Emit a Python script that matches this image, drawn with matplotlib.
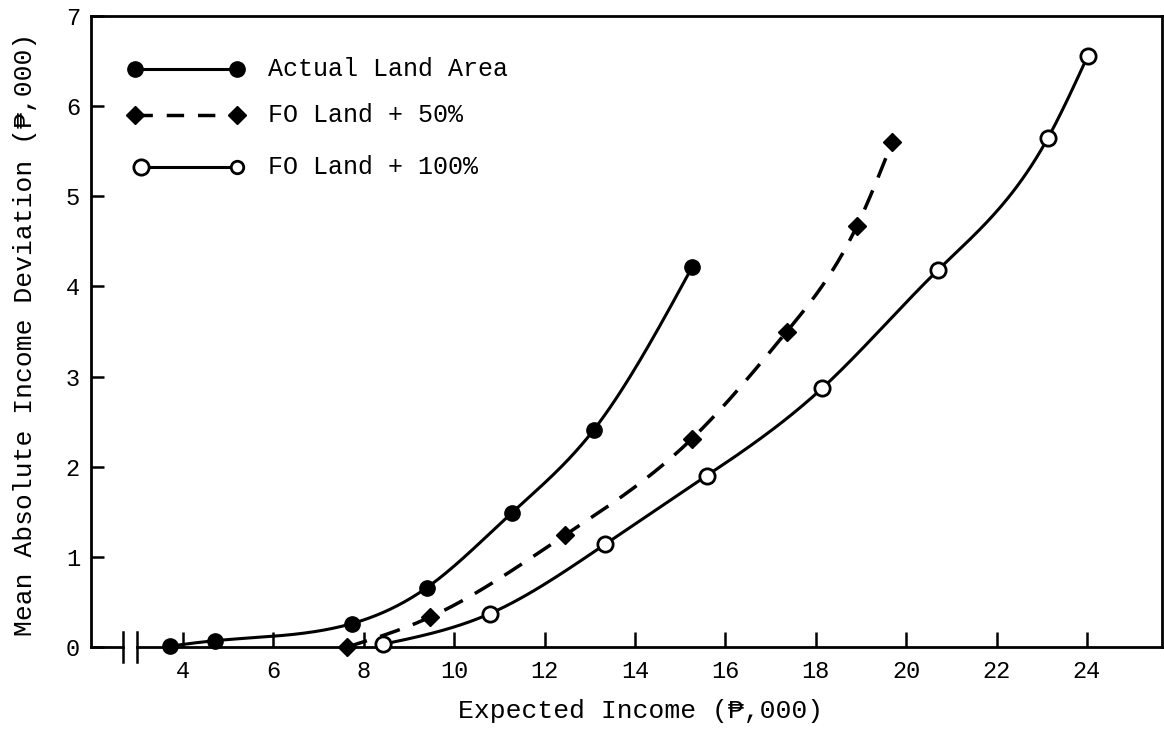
import numpy as np
import matplotlib
matplotlib.use('Agg')
import matplotlib.pyplot as plt

plt.rcParams['font.family'] = ['Liberation Mono', 'DejaVu Sans Mono', 'DejaVu Sans']

# values (thousand pesos)
actual_x = [3.71, 4.71, 7.74, 9.40, 11.28, 13.09, 15.26]
actual_y = [0.01, 0.07, 0.26, 0.66, 1.49, 2.41, 4.21]

fo50_x = [7.63, 9.46, 12.45, 15.26, 17.36, 18.91, 19.69]
fo50_y = [0.00, 0.33, 1.24, 2.31, 3.50, 4.67, 5.60]

fo100_x = [8.42, 10.79, 13.34, 15.59, 18.14, 20.70, 23.14, 24.02]
fo100_y = [0.03, 0.37, 1.14, 1.90, 2.87, 4.18, 5.65, 6.56]

labels = ['Actual Land Area', 'FO Land + 50%', 'FO Land + 100%']
x_ticks = [4, 6, 8, 10, 12, 14, 16, 18, 20, 22, 24]
y_ticks = [0, 1, 2, 3, 4, 5, 6, 7]


def smooth(x, y, n=300):
    # natural cubic spline through the points, like the hand-drawn curves
    x = np.asarray(x, float)
    y = np.asarray(y, float)
    k = len(x)
    h = np.diff(x)
    A = np.zeros((k, k))
    r = np.zeros(k)
    A[0, 0] = A[-1, -1] = 1
    for i in range(1, k - 1):
        A[i, i - 1] = h[i - 1]
        A[i, i] = 2 * (h[i - 1] + h[i])
        A[i, i + 1] = h[i]
        r[i] = 6 * ((y[i + 1] - y[i]) / h[i] - (y[i] - y[i - 1]) / h[i - 1])
    M = np.linalg.solve(A, r)
    xs = np.linspace(x[0], x[-1], n)
    i = np.clip(np.searchsorted(x, xs) - 1, 0, k - 2)
    hi = h[i]
    a = x[i + 1] - xs
    b = xs - x[i]
    ys = (M[i] * a**3 / (6 * hi) + M[i + 1] * b**3 / (6 * hi)
          + (y[i] / hi - M[i] * hi / 6) * a + (y[i + 1] / hi - M[i + 1] * hi / 6) * b)
    return xs, ys


fig = plt.figure(figsize=(11.64, 7.35), dpi=100)
ax = fig.add_axes([91 / 1164, 1 - 647 / 735, 1071 / 1164, 631 / 735])

ax.set_xlim(1.965, 25.66)
ax.set_ylim(0, 7)

lw = 2.2
sx, sy = smooth(actual_x, actual_y)
ax.plot(sx, sy, color='k', lw=lw, clip_on=False)
ax.plot(actual_x, actual_y, 'o', color='k', ms=11, clip_on=False, zorder=5)

sx, sy = smooth(fo50_x, fo50_y)
ax.plot(sx, sy, color='k', lw=2.5, dashes=(6, 4), clip_on=False)
ax.plot(fo50_x, fo50_y, 'D', color='k', ms=9.5, clip_on=False, zorder=5)

sx, sy = smooth(fo100_x, fo100_y)
ax.plot(sx, sy, color='k', lw=lw, clip_on=False)
ax.plot(fo100_x, fo100_y, 'o', mfc='white', mec='k', mew=2, ms=11, clip_on=False, zorder=5)

# frame: left/top/right spines, bottom axis drawn with a break
for side in ['left', 'top', 'right']:
    ax.spines[side].set_linewidth(2)
ax.spines['bottom'].set_visible(False)
ax.plot([1.965, 2.67], [0, 0], color='k', lw=2, clip_on=False)
ax.plot([2.98, 25.66], [0, 0], color='k', lw=2, clip_on=False)
ax.plot([2.67, 2.67], [-0.17, 0.17], color='k', lw=1.8, clip_on=False)
ax.plot([2.98, 2.98], [-0.17, 0.17], color='k', lw=1.8, clip_on=False)

ax.set_xticks(x_ticks)
ax.set_yticks(y_ticks)
ax.tick_params(axis='x', direction='in', length=11, width=1.8, pad=9, labelsize=17)
ax.tick_params(axis='y', direction='in', length=9, width=1.8, pad=8, labelsize=17)
ax.tick_params(top=False, right=False)

ax.set_xlabel('Expected Income (₱,000)', fontsize=19)
ax.xaxis.set_label_coords(0.513, -0.082)
ax.set_ylabel('Mean Absolute Income Deviation (₱,000)', fontsize=19)
ax.yaxis.set_label_coords(-0.050, 0.496)

# hand-made legend in the upper left corner
rows = [0.916, 0.843, 0.761]
x0, x1, xt = 0.041, 0.136, 0.165
tr = ax.transAxes
ax.plot([x0, x1], [rows[0]] * 2, color='k', lw=lw, transform=tr)
ax.plot([x0, x1], [rows[0]] * 2, 'o', color='k', ms=11, transform=tr)
ax.plot([x0, x1], [rows[1]] * 2, color='k', lw=2.5, dashes=(5, 4), transform=tr)
ax.plot([x0, x1], [rows[1]] * 2, 'D', color='k', ms=9, transform=tr)
ax.plot([x0 + 0.006, x1], [rows[2]] * 2, color='k', lw=lw, transform=tr)
ax.plot([x0 + 0.006], [rows[2]], 'o', mfc='white', mec='k', mew=2, ms=11, transform=tr)
ax.plot([x1], [rows[2]], 'o', mfc='white', mec='k', mew=2, ms=9, transform=tr)
for r, lab in zip(rows, labels):
    ax.text(xt, r, lab, transform=tr, fontsize=18, va='center', ha='left')

fig.savefig('out.png', dpi=100)
